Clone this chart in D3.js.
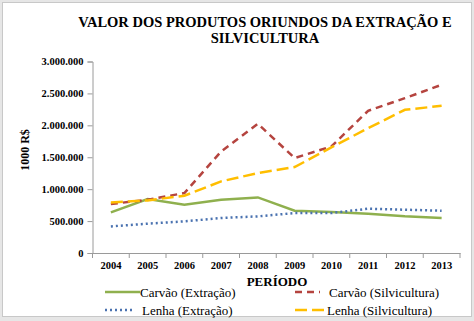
<!DOCTYPE html>
<html>
<head>
<meta charset="utf-8">
<script src="https://cdn.jsdelivr.net/npm/d3@7"></script>
<style>
  html, body { margin: 0; padding: 0; background: #e6e6e6; }
  svg { display: block; }
  svg text { font-family: 'Liberation Serif', 'Times New Roman', Times, serif; }
</style>
</head>
<body>
<div id="chart"></div>
<script>
// dados do gráfico
const anos = ['2004', '2005', '2006', '2007', '2008', '2009', '2010', '2011', '2012', '2013'];
const carvaoExtracao = [636000, 845000, 756000, 835000, 871000, 663000, 642000, 616000, 574000, 548000];
const carvaoSilvicultura = [767000, 835000, 939000, 1591000, 2024000, 1487000, 1669000, 2228000, 2426000, 2635000];
const lenhaExtracao = [417000, 459000, 496000, 548000, 574000, 626000, 626000, 694000, 678000, 663000];
const lenhaSilvicultura = [793000, 824000, 897000, 1122000, 1252000, 1346000, 1654000, 1956000, 2243000, 2306000];
const yTicks = [0, 500000, 1000000, 1500000, 2000000, 2500000, 3000000];

const series = [
    { nome: 'Carvão (Extração)', valores: carvaoExtracao, cor: '#8FB04E', dash: null },
    { nome: 'Carvão (Silvicultura)', valores: carvaoSilvicultura, cor: '#B5443F', dash: '7,5' },
    { nome: 'Lenha (Extração)', valores: lenhaExtracao, cor: '#4A72B0', dash: '2,3' },
    { nome: 'Lenha (Silvicultura)', valores: lenhaSilvicultura, cor: '#FFBE00', dash: '12,5' },
];

const W = 474, H = 321;
const fmt = v => d3.format(',')(v).replace(/,/g, '.');

const svg = d3.select('#chart').append('svg')
    .attr('width', W)
    .attr('height', H);

// fundo branco com borda
svg.append('rect')
    .attr('x', 2.5).attr('y', 2.5)
    .attr('width', 469).attr('height', 314)
    .attr('fill', '#fff')
    .attr('stroke', '#c8c8c8');

// área do gráfico
const x = d3.scaleBand().domain(anos).range([92.5, 460]);
const y = d3.scaleLinear().domain([0, 3000000]).range([253, 61.5]);

// título
svg.append('text')
    .attr('x', 265).attr('y', 27)
    .attr('text-anchor', 'middle')
    .attr('font-weight', 'bold').attr('font-size', 14.5)
    .text('VALOR DOS PRODUTOS ORIUNDOS DA EXTRAÇÃO E');
svg.append('text')
    .attr('x', 265).attr('y', 43)
    .attr('text-anchor', 'middle')
    .attr('font-weight', 'bold').attr('font-size', 14.5)
    .text('SILVICULTURA');

// eixo Y
const yAxis = svg.append('g')
    .attr('transform', 'translate(' + 92.5 + ',0)')
    .call(d3.axisLeft(y).tickValues(yTicks).tickFormat(fmt).tickSize(5).tickPadding(4));
yAxis.attr('font-family', null);
yAxis.select('.domain').attr('stroke', '#9a9a9a');
yAxis.selectAll('.tick line').attr('stroke', '#9a9a9a');
yAxis.selectAll('text')
    .attr('font-weight', 'bold').attr('font-size', 10.5).attr('fill', '#000');

// eixo X
const xAxis = svg.append('g')
    .attr('transform', 'translate(0,' + 253 + ')')
    .call(d3.axisBottom(x).tickSize(0).tickPadding(9));
xAxis.attr('font-family', null);
xAxis.select('.domain').attr('stroke', '#9a9a9a');
xAxis.selectAll('text')
    .attr('font-weight', 'bold').attr('font-size', 10.5).attr('fill', '#000');
// marcas entre categorias
svg.append('g').selectAll('line')
    .data(anos.concat(['fim']))
    .enter()
    .append('line')
    .attr('x1', (d, i) => 92.5 + i * x.step())
    .attr('x2', (d, i) => 92.5 + i * x.step())
    .attr('y1', 253).attr('y2', 258)
    .attr('stroke', '#9a9a9a');

// títulos dos eixos
svg.append('text')
    .attr('transform', 'translate(29,150) rotate(-90)')
    .attr('text-anchor', 'middle')
    .attr('font-weight', 'bold').attr('font-size', 12)
    .text('1000 R$');
svg.append('text')
    .attr('x', 277).attr('y', 286)
    .attr('text-anchor', 'middle')
    .attr('font-weight', 'bold').attr('font-size', 13)
    .text('PERÍODO');

// linhas
const linha = d3.line()
    .x((d, i) => x(anos[i]) + x.bandwidth() / 2)
    .y(d => y(d));

svg.append('g').selectAll('path')
    .data(series)
    .enter()
    .append('path')
    .attr('d', d => linha(d.valores))
    .attr('fill', 'none')
    .attr('stroke', d => d.cor)
    .attr('stroke-width', 2.5)
    .attr('stroke-dasharray', d => d.dash);

// legenda
const legendaPos = [
    { x1: 105, x2: 140, tx: 140, ty: 297 },
    { x1: 295, x2: 320, tx: 329, ty: 297 },
    { x1: 105, x2: 133, tx: 142, ty: 315 },
    { x1: 295, x2: 327, tx: 327, ty: 315 },
];
const leg = svg.append('g').selectAll('g')
    .data(series)
    .enter()
    .append('g');
leg.append('line')
    .attr('x1', (d, i) => legendaPos[i].x1)
    .attr('x2', (d, i) => legendaPos[i].x2)
    .attr('y1', (d, i) => legendaPos[i].ty - 5)
    .attr('y2', (d, i) => legendaPos[i].ty - 5)
    .attr('stroke', d => d.cor)
    .attr('stroke-width', 2.5)
    .attr('stroke-dasharray', d => d.dash);
leg.append('text')
    .attr('x', (d, i) => legendaPos[i].tx)
    .attr('y', (d, i) => legendaPos[i].ty)
    .attr('font-size', 13).attr('fill', '#000')
    .text(d => d.nome);
</script>
</body>
</html>
